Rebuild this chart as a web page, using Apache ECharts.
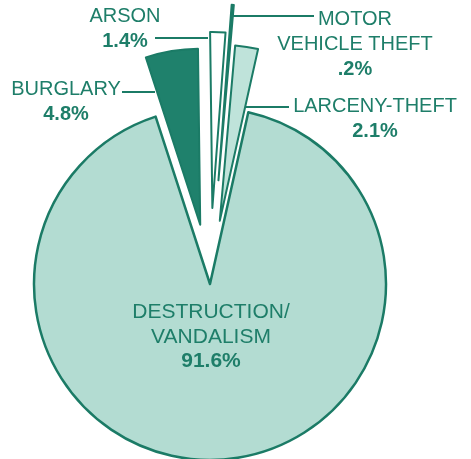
<!DOCTYPE html>
<html>
<head>
<meta charset="utf-8">
<script src="https://cdn.jsdelivr.net/npm/echarts@6/dist/echarts.min.js"></script>
<style>
  html, body { margin: 0; padding: 0; background: #fff; }
  #main { width: 471px; height: 459px; }
</style>
</head>
<body>
<div id="main"></div>
<script>
// crime share, percent of offenses
var categories = ['BURGLARY', 'ARSON', 'MOTOR\nVEHICLE THEFT', 'LARCENY-THEFT', 'DESTRUCTION/\nVANDALISM'];
var percents = [4.8, 1.4, 0.2, 2.1, 91.6];

// styling / layout (not data)
var TEAL = '#1b7b66';
var TEXT = '#1e7e69';
var fills = ['#1f816c', '#ffffff', '#1f816c', '#bfe3da', '#b3dcd2'];
var offsets = [60, 76, 104, 64, 0];
var labelPos = [[66, 102], [125, 29], [355, 44], [375, 119], [211, 337]];
var leaderLines = [[122, 92, 155, 92], [155, 38, 208, 38], [233, 16, 314, 16], [245, 107, 289, 107]];
var CENTER = [210, 284];
var R = 176;
var START = 108;

function pctText(v) {
    return String(v).replace(/^0\./, '.') + '%';
}

function fmt(p) {
    var big = p.dataIndex === categories.length - 1;
    var n = big ? 'nb' : 'n';
    var pp = big ? 'pb' : 'p';
    return p.name.split('\n').map(function (s) { return '{' + n + '|' + s + '}'; }).join('\n')
        + '\n{' + pp + '|' + pctText(p.value) + '}';
}

var hidden = { color: 'rgba(0,0,0,0)', borderWidth: 0 };

// base series: big slice + all labels
var series = [{
    type: 'pie',
    center: CENTER,
    radius: R,
    startAngle: START,
    clockwise: true,
    avoidLabelOverlap: false,
    silent: true,
    label: {
        show: true,
        position: 'inside',
        formatter: fmt,
        rich: {
            n: { fontFamily: 'Liberation Sans', fontSize: 20, color: TEXT, lineHeight: 25, align: 'center' },
            p: { fontFamily: 'Liberation Sans', fontSize: 20, fontWeight: 'bold', color: TEXT, lineHeight: 25, align: 'center' },
            nb: { fontFamily: 'Liberation Sans', fontSize: 21, color: TEXT, lineHeight: 24.5, align: 'center' },
            pb: { fontFamily: 'Liberation Sans', fontSize: 21, fontWeight: 'bold', color: TEXT, lineHeight: 24.5, align: 'center' }
        }
    },
    labelLine: { show: false },
    labelLayout: function (params) {
        var p = labelPos[params.dataIndex];
        return { x: p[0], y: p[1], align: 'center', verticalAlign: 'middle' };
    },
    data: categories.map(function (c, j) {
        var big = j === categories.length - 1;
        return {
            name: c,
            value: percents[j],
            itemStyle: big ? { color: fills[j], borderColor: TEAL, borderWidth: 2.5 } : hidden
        };
    })
}];

// one exploded series per small slice
for (var i = 0; i < categories.length - 1; i++) {
    (function (i) {
        var st = { color: fills[i], borderColor: TEAL, borderWidth: 2 };
        series.push({
            type: 'pie',
            center: CENTER,
            radius: R,
            startAngle: START,
            clockwise: true,
            selectedMode: 'multiple',
            selectedOffset: offsets[i],
            silent: true,
            label: { show: false },
            labelLine: { show: false },
            data: categories.map(function (c, j) {
                return {
                    name: c,
                    value: percents[j],
                    selected: j === i,
                    itemStyle: j === i ? st : hidden,
                    select: { itemStyle: j === i ? st : hidden }
                };
            })
        });
    })(i);
}

var myChart = echarts.init(document.getElementById('main'));
var option = {
    animation: false,
    backgroundColor: '#fff',
    series: series,
    graphic: leaderLines.map(function (l) {
        return {
            type: 'line',
            shape: { x1: l[0], y1: l[1], x2: l[2], y2: l[3] },
            style: { stroke: TEAL, lineWidth: 2 },
            z: 10
        };
    })
};
myChart.setOption(option);
</script>
</body>
</html>
